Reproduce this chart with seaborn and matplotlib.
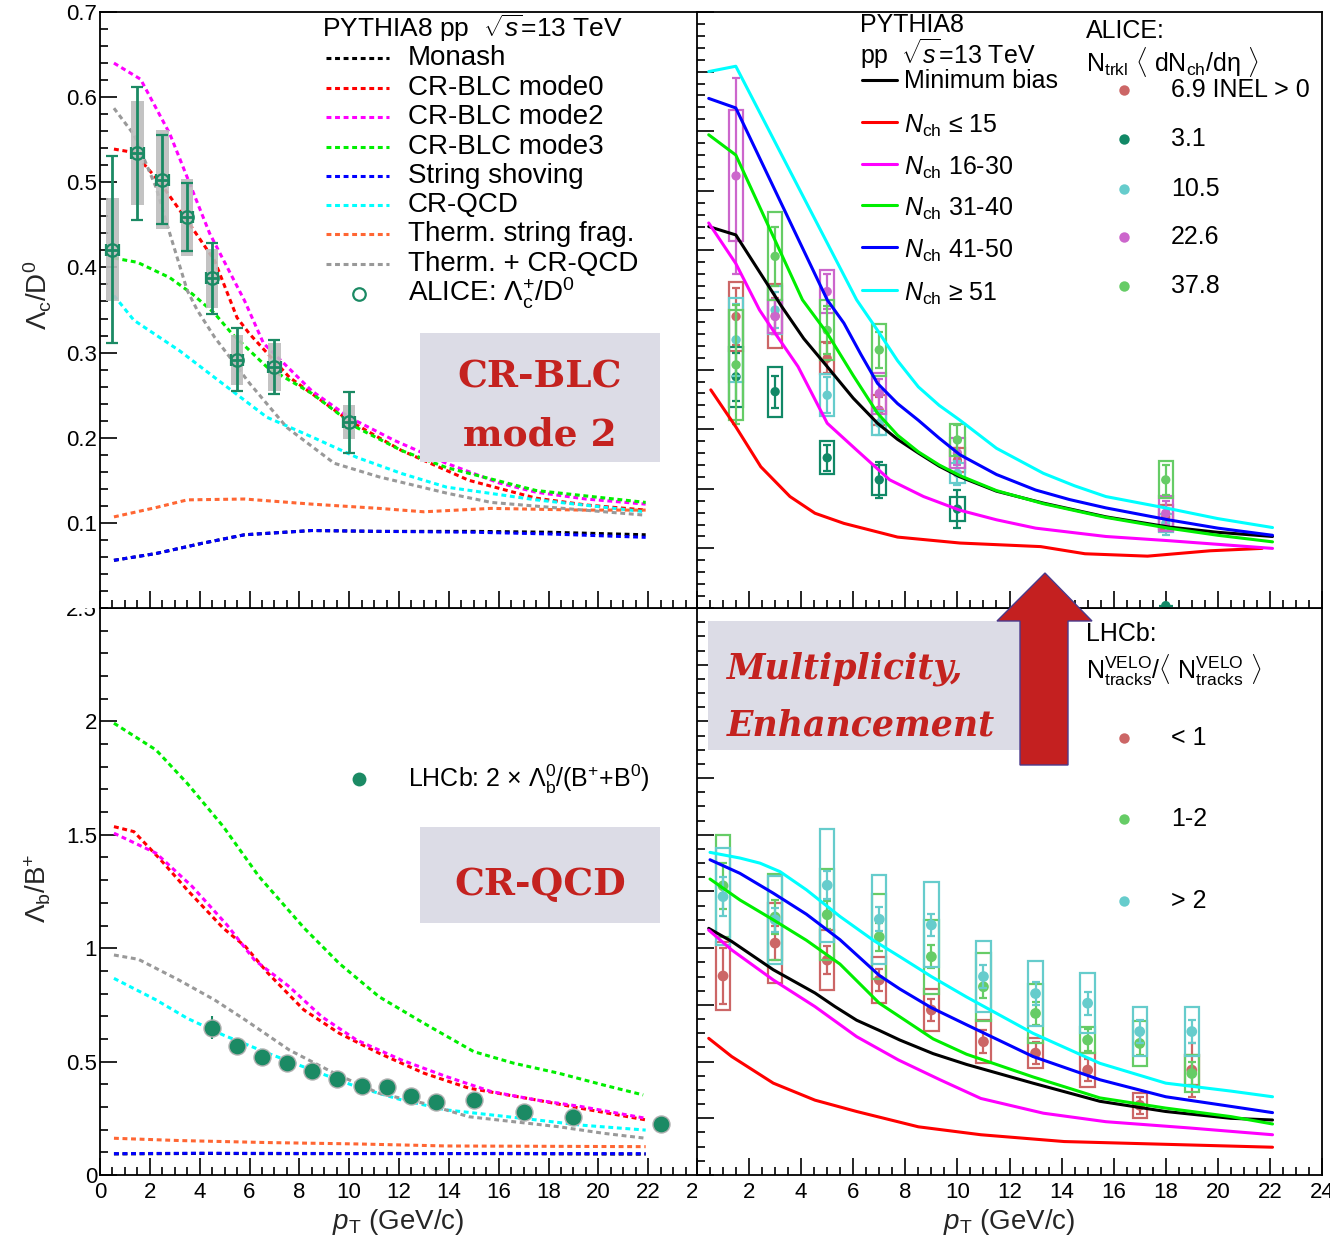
import numpy as np
import pandas as pd
import matplotlib
matplotlib.use("Agg")
import matplotlib.pyplot as plt
import seaborn as sns
from matplotlib.patches import Rectangle, Polygon
from matplotlib.ticker import MultipleLocator, FixedLocator, NullFormatter

# ======================= DATA =======================
# ---- Top-left: Lambda_c / D0, PYTHIA8 tunes ----
tl_monash_pt = [0.56, 2.25, 4.1, 5.8, 8.5, 11.2, 15, 18, 21.9]
tl_monash_v = [0.056, 0.064, 0.076, 0.086, 0.091, 0.090, 0.090, 0.089, 0.086]
tl_mode0_pt = [0.56, 1.36, 2.4, 3.5, 4.6, 5.5, 6.0, 7.6, 10, 12.1, 14.8, 17.5, 19.5, 21.9]
tl_mode0_v = [0.539, 0.535, 0.50, 0.455, 0.408, 0.341, 0.322, 0.271, 0.220, 0.185, 0.150, 0.129, 0.121, 0.115]
tl_mode2_pt = [0.56, 1.63, 2.8, 4.4, 5.8, 6.56, 8.5, 10, 11.8, 13.9, 16, 17.5, 19.5, 21.9]
tl_mode2_v = [0.640, 0.621, 0.557, 0.44, 0.361, 0.311, 0.255, 0.224, 0.197, 0.170, 0.147, 0.136, 0.128, 0.122]
tl_mode3_pt = [0.56, 1.5, 2.8, 3.7, 4.6, 5.3, 6.7, 8.5, 10.3, 12.1, 13.9, 17.5, 21.9]
tl_mode3_v = [0.411, 0.406, 0.388, 0.369, 0.346, 0.322, 0.283, 0.252, 0.212, 0.185, 0.165, 0.138, 0.124]
tl_shove_pt = [0.56, 2.25, 4.1, 5.8, 8.5, 11.2, 15, 18, 21.9]
tl_shove_v = [0.056, 0.064, 0.076, 0.086, 0.091, 0.090, 0.089, 0.087, 0.083]
tl_crqcd_pt = [0.56, 1.36, 3.2, 4.9, 6.7, 8.5, 10.3, 12.1, 13.9, 17.5, 21.9]
tl_crqcd_v = [0.367, 0.338, 0.302, 0.264, 0.224, 0.201, 0.177, 0.158, 0.142, 0.127, 0.113]
tl_therm_pt = [0.56, 2.25, 3.5, 5.8, 8.5, 11.2, 13, 15.7, 19.3, 21.9]
tl_therm_v = [0.107, 0.118, 0.127, 0.128, 0.122, 0.117, 0.113, 0.117, 0.115, 0.115]
tl_thcr_pt = [0.56, 1.36, 2.25, 2.8, 3.5, 3.9, 4.6, 6.0, 7.5, 9.4, 11.2, 13.9, 15.7, 21.9]
tl_thcr_v = [0.587, 0.556, 0.494, 0.44, 0.373, 0.35, 0.318, 0.264, 0.212, 0.170, 0.154, 0.135, 0.124, 0.109]
# ALICE Lambda_c+/D0
alice_pt = [0.5, 1.5, 2.5, 3.5, 4.5, 5.5, 7, 10]
alice_v = [0.421, 0.534, 0.503, 0.459, 0.387, 0.2915, 0.283, 0.218]
alice_stat = [0.11, 0.078, 0.052, 0.040, 0.042, 0.037, 0.032, 0.036]
alice_syst = [0.06, 0.061, 0.058, 0.045, 0.035, 0.029, 0.028, 0.020]

# ---- Top-right: Lambda_c / D0 in multiplicity classes ----
tr_mb_pt = [0.45, 1.49, 3.25, 4.1, 5.0, 6.0, 6.93, 7.7, 8.5, 9.3, 10.1, 11.5, 13.3, 15.7, 18.1, 20, 22.1]
tr_mb_v = [0.640, 0.626, 0.506, 0.452, 0.405, 0.352, 0.310, 0.283, 0.260, 0.238, 0.220, 0.196, 0.176, 0.153, 0.136, 0.127, 0.120]
tr_n15_pt = [0.53, 1.49, 2.45, 3.57, 4.53, 5.64, 7.7, 10.1, 13.2, 14.9, 17.3, 19.7, 21.7]
tr_n15_v = [0.366, 0.304, 0.237, 0.187, 0.159, 0.142, 0.119, 0.109, 0.103, 0.091, 0.087, 0.096, 0.100]
tr_n30_pt = [0.45, 1.49, 2.4, 2.92, 3.88, 5.0, 6.13, 7.4, 8.7, 10.1, 11.5, 13, 15.7, 18.1, 22.1]
tr_n30_v = [0.646, 0.578, 0.50, 0.466, 0.405, 0.310, 0.265, 0.215, 0.187, 0.164, 0.148, 0.134, 0.120, 0.113, 0.100]
tr_n40_pt = [0.45, 1.49, 4.05, 5.0, 6.0, 6.93, 7.7, 8.5, 9.3, 10.1, 11.5, 13.3, 15.7, 18.1, 20, 22.1]
tr_n40_v = [0.794, 0.760, 0.517, 0.461, 0.390, 0.327, 0.290, 0.262, 0.240, 0.222, 0.197, 0.175, 0.152, 0.134, 0.122, 0.111]
tr_n50_pt = [0.45, 1.49, 5.0, 5.64, 6.3, 6.93, 7.7, 8.5, 9.3, 10.1, 11.5, 13, 14.3, 15.7, 18.1, 20, 22.1]
tr_n50_v = [0.855, 0.839, 0.517, 0.478, 0.425, 0.377, 0.343, 0.315, 0.285, 0.257, 0.224, 0.198, 0.182, 0.168, 0.148, 0.134, 0.122]
tr_n51_pt = [0.45, 1.49, 6.13, 6.93, 7.7, 8.5, 9.3, 10.1, 11.5, 13.3, 14.5, 15.7, 18.1, 20, 22.1]
tr_n51_v = [0.900, 0.909, 0.517, 0.466, 0.415, 0.371, 0.340, 0.315, 0.268, 0.226, 0.205, 0.187, 0.167, 0.150, 0.135]
# ALICE multiplicity-class data
tr_data_pt = [1.5, 3, 5, 7, 10, 18]
tr_classes = ["6.9 INEL > 0", "3.1", "10.5", "22.6", "37.8"]
tr_v_69 = [0.489, 0.490, 0.419, 0.332, 0.248, 0.153]
tr_stat_69 = [0.048, 0.03, 0.025, 0.022, 0.02, 0.02]
tr_syst_69 = [0.058, 0.054, 0.027, 0.025, 0.02, 0.02]
tr_v_31 = [0.388, 0.363, 0.252, 0.215, 0.166, 0.004]
tr_stat_31 = [0.04, 0.027, 0.022, 0.03, 0.032, 0.0]
tr_syst_31 = [0.05, 0.042, 0.028, 0.025, 0.02, 0.0]
tr_v_105 = [0.45, 0.50, 0.357, 0.31, 0.226, 0.142]
tr_stat_105 = [0.06, 0.03, 0.03, 0.02, 0.02, 0.02]
tr_syst_105 = [0.07, 0.04, 0.035, 0.02, 0.017, 0.015]
tr_v_226 = [0.725, 0.489, 0.531, 0.36, 0.26, 0.159]
tr_stat_226 = [0.165, 0.03, 0.03, 0.025, 0.02, 0.02]
tr_syst_226 = [0.11, 0.027, 0.036, 0.034, 0.025, 0.029]
tr_v_378 = [0.408, 0.59, 0.466, 0.433, 0.282, 0.215]
tr_stat_378 = [0.10, 0.05, 0.04, 0.03, 0.025, 0.025]
tr_syst_378 = [0.092, 0.074, 0.05, 0.044, 0.027, 0.031]

# ---- Bottom-left: Lambda_b / B+ ----
bl_monash_pt = [0.56, 4, 8, 12, 16, 21.9]
bl_monash_v = [0.093, 0.095, 0.094, 0.095, 0.094, 0.092]
bl_mode0_pt = [0.56, 1.36, 2.44, 3.5, 4.95, 5.84, 6.74, 8.18, 9.6, 11.2, 13.0, 14.8, 17.5, 19.3, 21.9]
bl_mode0_v = [1.536, 1.514, 1.389, 1.257, 1.088, 1.007, 0.890, 0.728, 0.625, 0.537, 0.449, 0.383, 0.331, 0.294, 0.243]
bl_mode2_pt = [0.56, 2.25, 3.7, 5.1, 6.2, 7.6, 8.9, 10.3, 12.1, 13.9, 15.7, 17.5, 19.3, 21.9]
bl_mode2_v = [1.507, 1.419, 1.272, 1.102, 0.948, 0.830, 0.698, 0.595, 0.507, 0.434, 0.368, 0.331, 0.302, 0.250]
bl_mode3_pt = [0.56, 2.25, 3.5, 4.95, 6.38, 8.2, 9.6, 11.2, 13.0, 15.0, 16.6, 18.4, 20.2, 21.8]
bl_mode3_v = [1.992, 1.874, 1.727, 1.536, 1.316, 1.088, 0.933, 0.786, 0.669, 0.544, 0.493, 0.449, 0.397, 0.353]
bl_shove_pt = [0.56, 4, 8, 12, 16, 21.9]
bl_shove_v = [0.094, 0.096, 0.095, 0.094, 0.095, 0.094]
bl_crqcd_pt = [0.56, 2.25, 3.5, 4.95, 6.74, 8.5, 10.3, 12.1, 13.9, 15.7, 17.5, 19.3, 21.9]
bl_crqcd_v = [0.867, 0.772, 0.691, 0.617, 0.537, 0.463, 0.389, 0.331, 0.287, 0.265, 0.243, 0.220, 0.198]
bl_therm_pt = [0.56, 3.16, 6.74, 10.3, 13.9, 21.9]
bl_therm_v = [0.162, 0.152, 0.143, 0.137, 0.128, 0.125]
bl_thcr_pt = [0.56, 1.54, 3.16, 4.6, 5.84, 7.6, 9.4, 11.2, 13.0, 14.8, 16.6, 18.4, 20.2, 21.9]
bl_thcr_v = [0.970, 0.951, 0.860, 0.772, 0.683, 0.551, 0.449, 0.360, 0.316, 0.257, 0.235, 0.213, 0.184, 0.162]
# LHCb 2 x Lambda_b0/(B+ + B0)
lhcb_pt = [4.5, 5.5, 6.5, 7.5, 8.5, 9.5, 10.5, 11.5, 12.5, 13.5, 15, 17, 19, 22.5]
lhcb_v = [0.650, 0.567, 0.519, 0.493, 0.459, 0.422, 0.394, 0.387, 0.350, 0.321, 0.331, 0.277, 0.255, 0.224]
lhcb_stat = [0.05, 0.035, 0.03, 0.03, 0.03, 0.03, 0.025, 0.03, 0.03, 0.025, 0.025, 0.02, 0.02, 0.015]
lhcb_syst = [0.03, 0.028, 0.025, 0.025, 0.025, 0.022, 0.02, 0.02, 0.02, 0.02, 0.02, 0.018, 0.018, 0.015]

# ---- Bottom-right: Lambda_b / B in multiplicity classes ----
br_mb_pt = [0.45, 1.33, 2.93, 4.53, 5.3, 6.13, 7.0, 7.79, 9.07, 10.35, 12.9, 15.47, 18, 20.5, 22.1]
br_mb_v = [0.435, 0.412, 0.362, 0.321, 0.297, 0.273, 0.255, 0.238, 0.214, 0.195, 0.162, 0.130, 0.112, 0.100, 0.097]
br_n15_pt = [0.45, 1.33, 2.93, 4.53, 6.13, 8.5, 10.9, 14.1, 18.9, 22.1]
br_n15_v = [0.241, 0.209, 0.162, 0.132, 0.112, 0.085, 0.071, 0.059, 0.053, 0.049]
br_n30_pt = [0.45, 1.33, 2.93, 4.53, 6.13, 7.73, 9.33, 10.9, 13.3, 15.7, 18.9, 22.1]
br_n30_v = [0.432, 0.397, 0.344, 0.297, 0.244, 0.203, 0.168, 0.135, 0.109, 0.094, 0.083, 0.071]
br_n40_pt = [0.5, 1.65, 2.93, 4.2, 5.49, 7.0, 7.79, 9.07, 10.35, 12.9, 15.47, 18, 20.5, 22.1]
br_n40_v = [0.522, 0.485, 0.450, 0.414, 0.372, 0.303, 0.279, 0.240, 0.213, 0.173, 0.136, 0.118, 0.103, 0.090]
br_n50_pt = [0.5, 1.65, 2.93, 4.2, 5.49, 7.0, 7.79, 9.0, 10.35, 12.9, 15.47, 18, 20.5, 22.1]
br_n50_v = [0.556, 0.532, 0.497, 0.460, 0.415, 0.352, 0.328, 0.295, 0.265, 0.209, 0.168, 0.138, 0.121, 0.110]
br_n51_pt = [0.5, 1.65, 2.42, 3.19, 4.2, 5.49, 6.77, 7.79, 9.0, 10.35, 12.9, 15.47, 18, 20.5, 22.1]
br_n51_v = [0.569, 0.559, 0.550, 0.535, 0.503, 0.456, 0.414, 0.385, 0.350, 0.314, 0.250, 0.197, 0.162, 0.148, 0.138]
# LHCb multiplicity classes
br_data_pt = [1, 3, 5, 7, 9, 11, 13, 15, 17, 19]
br_classes = ["< 1", "1-2", "> 2"]
br_v_lt1 = [0.351, 0.409, 0.379, 0.344, 0.291, 0.235, 0.215, 0.185, 0.123, 0.185]
br_stat_lt1 = [0.05, 0.03, 0.025, 0.02, 0.02, 0.02, 0.02, 0.02, 0.015, 0.047]
br_syst_lt1 = [0.06, 0.07, 0.053, 0.041, 0.037, 0.038, 0.027, 0.03, 0.022, 0.027]
br_v_12 = [0.51, 0.455, 0.459, 0.420, 0.385, 0.332, 0.285, 0.238, 0.232, 0.179]
br_stat_12 = [0.04, 0.03, 0.025, 0.025, 0.02, 0.02, 0.02, 0.02, 0.02, 0.02]
br_syst_12 = [0.09, 0.075, 0.08, 0.075, 0.065, 0.06, 0.052, 0.023, 0.04, 0.033]
br_v_gt2 = [0.491, 0.450, 0.511, 0.451, 0.441, 0.350, 0.320, 0.303, 0.253, 0.253]
br_stat_gt2 = [0.035, 0.021, 0.025, 0.021, 0.02, 0.02, 0.02, 0.02, 0.02, 0.02]
br_syst_gt2 = [0.085, 0.078, 0.10, 0.078, 0.075, 0.063, 0.057, 0.053, 0.043, 0.044]

# tick labels
x_ticks = list(range(0, 25, 2))
bl_xlabels = [str(t) for t in x_ticks]
br_xlabels = [""] + [str(t) for t in x_ticks[1:]]
tl_yticks = [0.1, 0.2, 0.3, 0.4, 0.5, 0.6, 0.7]
bl_yticks = [0, 0.5, 1, 1.5, 2, 2.5]

# ======================= STYLE =======================
sns.set_theme(style="white")
plt.rcParams['font.family'] = ['Liberation Sans', 'DejaVu Sans']
plt.rcParams['mathtext.fontset'] = 'custom'
plt.rcParams['mathtext.rm'] = 'Liberation Sans'
plt.rcParams['mathtext.it'] = 'Liberation Sans:italic'
plt.rcParams['mathtext.bf'] = 'Liberation Sans:bold'

C_BLACK, C_RED, C_MAG, C_GRN = '#000000', '#ff0000', '#ff00ff', '#00ee00'
C_BLUE, C_CYAN, C_ORNG, C_GRAY = '#0000ff', '#00ffff', '#ff6633', '#999999'
C_ALICE = '#1b8a64'
CL_SALMON, CL_DKGRN, CL_CYAN, CL_MAG, CL_GRN = '#cc6666', '#118866', '#66cccc', '#cc66cc', '#66cc66'
DASH = (0, (1.6, 1.2))
LW = 2.2
RED_TXT = '#c4221f'
BOX_BG = '#dcdce6'

W, H = 1343, 1245
fig = plt.figure(figsize=(W / 100, H / 100), dpi=100)


def add_ax(x0, y0, x1, y1, z):
    return fig.add_axes([x0 / W, 1 - y1 / H, (x1 - x0) / W, (y1 - y0) / H], zorder=z)


ax_bl = add_ax(100, 608, 698, 1175, 0)
ax_br = add_ax(697, 608, 1322, 1175, 1)
ax_tl = add_ax(100, 12, 698, 608, 1)
ax_tr = add_ax(697, 12, 1322, 608, 1)

# white covers emulating the ROOT pads
fig.add_artist(Rectangle((0, 1 - 608 / H), 100 / W, 608 / H, transform=fig.transFigure,
                         fc='white', ec='none', zorder=0.5))
fig.add_artist(Rectangle((697 / W, 0), (W - 697) / W, (H - 1175) / H, transform=fig.transFigure,
                         fc='white', ec='none', zorder=0.5))
fig.add_artist(Rectangle((1330 / W, 0), 13 / W, 1, transform=fig.transFigure,
                         fc='white', ec='none', zorder=3))


def curve(ax, pt, v, color, dashed=True, z=2):
    sns.lineplot(x=pt, y=v, ax=ax, color=color, linestyle=DASH if dashed else '-',
                 linewidth=LW, legend=False, errorbar=None, zorder=z)


def style(ax, ymaj, ymin, ylim):
    ax.set_xlim(0, 24)
    ax.set_ylim(*ylim)
    ax.xaxis.set_major_locator(FixedLocator(x_ticks))
    ax.xaxis.set_minor_locator(MultipleLocator(0.5))
    ax.yaxis.set_major_locator(MultipleLocator(ymaj))
    ax.yaxis.set_minor_locator(MultipleLocator(ymin))
    ax.tick_params(which='both', direction='in', bottom=True, left=True, top=False, right=False,
                   width=1.2, color='black', labelsize=16, labelcolor='black')
    ax.tick_params(which='major', length=12)
    ax.tick_params(which='minor', length=6)
    ax.tick_params(axis='x', pad=5)
    ax.tick_params(axis='y', pad=2)
    for s in ax.spines.values():
        s.set_visible(True)
        s.set_color('black')
        s.set_linewidth(1.3)
    ax.set_facecolor('white')
    ax.set_xlabel('')
    ax.set_ylabel('')


# ---------------- Top-left ----------------
ax = ax_tl
curve(ax, tl_monash_pt, tl_monash_v, C_BLACK)
curve(ax, tl_mode0_pt, tl_mode0_v, C_RED)
curve(ax, tl_mode2_pt, tl_mode2_v, C_MAG)
curve(ax, tl_mode3_pt, tl_mode3_v, C_GRN)
curve(ax, tl_shove_pt, tl_shove_v, C_BLUE)
curve(ax, tl_crqcd_pt, tl_crqcd_v, C_CYAN)
curve(ax, tl_therm_pt, tl_therm_v, C_ORNG)
curve(ax, tl_thcr_pt, tl_thcr_v, C_GRAY)
a_v = np.array(alice_v)
a_sy = np.array(alice_syst)
ax.bar(alice_pt, 2 * a_sy, bottom=a_v - a_sy, width=0.5, color='#bdbdbd', alpha=0.9, linewidth=0, zorder=3)
ax.errorbar(alice_pt, alice_v, yerr=alice_stat, xerr=0.25, fmt='o', mfc='none', mec=C_ALICE,
            ms=9, mew=1.6, ecolor=C_ALICE, elinewidth=2, capsize=4, capthick=2, zorder=4)
style(ax, 0.1, 0.02, (0, 0.7))
ax.set_yticks(tl_yticks)
ax.set_yticklabels([f"{t:g}" for t in tl_yticks])
ax.xaxis.set_major_formatter(NullFormatter())
ax.set_ylabel(r"$\Lambda_{\rm c}/{\rm D}^{0}$", fontsize=20)
ax.yaxis.set_label_coords(-0.104, 0.525)
ax.yaxis.label.set_va('center')

# ---------------- Top-right ----------------
ax = ax_tr
tr_sets = [(tr_v_69, tr_stat_69, tr_syst_69, CL_SALMON), (tr_v_31, tr_stat_31, tr_syst_31, CL_DKGRN),
           (tr_v_105, tr_stat_105, tr_syst_105, CL_CYAN), (tr_v_226, tr_stat_226, tr_syst_226, CL_MAG),
           (tr_v_378, tr_stat_378, tr_syst_378, CL_GRN)]
for v, st, sy, c in tr_sets:
    v = np.array(v); sy = np.array(sy)
    ax.bar(tr_data_pt, 2 * sy, bottom=v - sy, width=0.55, fill=False, edgecolor=c, linewidth=1.6, zorder=2)
    ax.errorbar(tr_data_pt, v, yerr=st, fmt='none', ecolor=c, elinewidth=1.6, capsize=3, capthick=1.6, zorder=2)
    sns.scatterplot(x=tr_data_pt, y=v, ax=ax, color=c, s=45, edgecolor='none', legend=False, zorder=2)
curve(ax, tr_mb_pt, tr_mb_v, C_BLACK, dashed=False, z=3)
curve(ax, tr_n15_pt, tr_n15_v, C_RED, dashed=False, z=3)
curve(ax, tr_n30_pt, tr_n30_v, C_MAG, dashed=False, z=3)
curve(ax, tr_n40_pt, tr_n40_v, C_GRN, dashed=False, z=3)
curve(ax, tr_n50_pt, tr_n50_v, C_BLUE, dashed=False, z=3)
curve(ax, tr_n51_pt, tr_n51_v, C_CYAN, dashed=False, z=3)
style(ax, 0.1, 0.02, (0, 1))
ax.xaxis.set_major_formatter(NullFormatter())
ax.yaxis.set_major_formatter(NullFormatter())

# ---------------- Bottom-left ----------------
ax = ax_bl
curve(ax, bl_monash_pt, bl_monash_v, C_BLACK)
curve(ax, bl_mode0_pt, bl_mode0_v, C_RED)
curve(ax, bl_mode2_pt, bl_mode2_v, C_MAG)
curve(ax, bl_mode3_pt, bl_mode3_v, C_GRN)
curve(ax, bl_shove_pt, bl_shove_v, C_BLUE)
curve(ax, bl_crqcd_pt, bl_crqcd_v, C_CYAN)
curve(ax, bl_therm_pt, bl_therm_v, C_ORNG)
curve(ax, bl_thcr_pt, bl_thcr_v, C_GRAY)
l_v = np.array(lhcb_v); l_sy = np.array(lhcb_syst)
ax.bar(lhcb_pt, 2 * l_sy, bottom=l_v - l_sy, width=0.45, color='#c8c8c8', alpha=0.8, linewidth=0, zorder=3)
ax.errorbar(lhcb_pt, lhcb_v, yerr=lhcb_stat, fmt='none', ecolor=C_ALICE, elinewidth=1.5, zorder=4)
sns.scatterplot(x=lhcb_pt, y=lhcb_v, ax=ax, color=C_ALICE, s=150, edgecolor='#b0b0b0', linewidth=1.0,
                legend=False, zorder=5)
style(ax, 0.5, 0.1, (0, 2.5))
ax.set_yticks(bl_yticks)
ax.set_yticklabels([f"{t:g}" for t in bl_yticks])
ax.set_xticks(x_ticks)
ax.set_xticklabels(bl_xlabels)
ax.set_ylabel(r"$\Lambda_{\rm b}/{\rm B}^{+}$", fontsize=20)
ax.yaxis.set_label_coords(-0.104, 0.506)
ax.yaxis.label.set_va('center')
ax.set_xlabel(r"$p_{\rm T}$ (GeV/c)", fontsize=20)
ax.xaxis.set_label_coords(0.498, -0.083)
ax.xaxis.label.set_va('center')

# ---------------- Bottom-right ----------------
ax = ax_br
br_sets = [(br_v_lt1, br_stat_lt1, br_syst_lt1, CL_SALMON), (br_v_12, br_stat_12, br_syst_12, CL_GRN),
           (br_v_gt2, br_stat_gt2, br_syst_gt2, CL_CYAN)]
for v, st, sy, c in br_sets:
    v = np.array(v); sy = np.array(sy)
    ax.bar(br_data_pt, 2 * sy, bottom=v - sy, width=0.55, fill=False, edgecolor=c, linewidth=1.6, zorder=2)
    ax.errorbar(br_data_pt, v, yerr=st, fmt='none', ecolor=c, elinewidth=1.6, capsize=3, capthick=1.6, zorder=2)
    sns.scatterplot(x=br_data_pt, y=v, ax=ax, color=c, s=60, edgecolor='none', legend=False, zorder=2)
curve(ax, br_mb_pt, br_mb_v, C_BLACK, dashed=False, z=3)
curve(ax, br_n15_pt, br_n15_v, C_RED, dashed=False, z=3)
curve(ax, br_n30_pt, br_n30_v, C_MAG, dashed=False, z=3)
curve(ax, br_n40_pt, br_n40_v, C_GRN, dashed=False, z=3)
curve(ax, br_n50_pt, br_n50_v, C_BLUE, dashed=False, z=3)
curve(ax, br_n51_pt, br_n51_v, C_CYAN, dashed=False, z=3)
style(ax, 0.1, 0.025, (0, 1))
ax.yaxis.set_major_formatter(NullFormatter())
ax.set_xticks(x_ticks)
ax.set_xticklabels(br_xlabels)
ax.set_xlabel(r"$p_{\rm T}$ (GeV/c)", fontsize=20)
ax.xaxis.set_label_coords(0.50, -0.083)
ax.xaxis.label.set_va('center')

# ======================= OVERLAY (legends, annotations) =======================
ov = fig.add_axes([0, 0, 1, 1], zorder=10)
ov.set_xlim(0, W)
ov.set_ylim(H, 0)
ov.axis('off')
ov.patch.set_alpha(0)


def t(x, y, s, size=18, **kw):
    ov.text(x, y, s, fontsize=size, ha=kw.pop('ha', 'left'), va=kw.pop('va', 'center'), color=kw.pop('color', 'black'), **kw)


# Top-left legend
t(322, 28, r"PYTHIA8 pp  $\sqrt{s}$=13 TeV", 19)
tl_leg = [("Monash", C_BLACK), ("CR-BLC mode0", C_RED), ("CR-BLC mode2", C_MAG), ("CR-BLC mode3", C_GRN),
          ("String shoving", C_BLUE), ("CR-QCD", C_CYAN), ("Therm. string frag.", C_ORNG),
          ("Therm. + CR-QCD", C_GRAY)]
rows = [58, 88, 117, 147, 176, 205, 234, 264]
for (lab, c), y in zip(tl_leg, rows):
    ov.plot([326, 389], [y, y], color=c, lw=LW, ls=DASH)
    t(408, y, lab, 20)
ov.plot([359], [294], 'o', mfc='none', mec=C_ALICE, ms=9, mew=1.6)
t(408, 293, r"ALICE: $\Lambda_{\rm c}^{+}$/D$^{0}$", 20)

# Top-right legends
t(860, 25, "PYTHIA8", 18)
t(860, 54, r"pp  $\sqrt{s}$=13 TeV", 18)
tr_leg = [("Minimum bias", C_BLACK), (r"$N_{\rm ch}$ ≤ 15", C_RED), (r"$N_{\rm ch}$ 16-30", C_MAG),
          (r"$N_{\rm ch}$ 31-40", C_GRN), (r"$N_{\rm ch}$ 41-50", C_BLUE), (r"$N_{\rm ch}$ ≥ 51", C_CYAN)]
rows = [80, 122, 164, 205, 247, 290]
for i, ((lab, c), y) in enumerate(zip(tr_leg, rows)):
    ov.plot([862, 897], [y, y], color=c, lw=LW)
    t(904, y + (1 if i == 0 else 4), lab, 18)
t(1086, 31, "ALICE:", 18)
t(1086, 62, r"N$_{\rm trkl}$ $\langle$ dN$_{\rm ch}$/dη $\rangle$", 18)
rows = [90, 139, 189, 237, 286]
for lab, c, y in zip(tr_classes, [CL_SALMON, CL_DKGRN, CL_CYAN, CL_MAG, CL_GRN], rows):
    ov.plot([1124], [y], 'o', color=c, ms=7.5, mec='none')
    t(1171, y, lab, 18)

# Bottom-left legend
ov.plot([359], [779], 'o', color=C_ALICE, ms=10, mec='none')
t(408, 779, r"LHCb: 2 × $\Lambda_{\rm b}^{0}$/(B$^{+}$+B$^{0}$)", 18)

# Bottom-right legend
t(1086, 634, "LHCb:", 18)
t(1086, 670, r"N$^{\rm VELO}_{\rm tracks}$/$\langle$ N$^{\rm VELO}_{\rm tracks}$ $\rangle$", 18)
rows = [738, 819, 901]
for lab, c, y in zip(br_classes, [CL_SALMON, CL_GRN, CL_CYAN], rows):
    ov.plot([1124], [y], 'o', color=c, ms=7.5, mec='none')
    t(1171, y, lab, 18)

# Annotation boxes
ov.add_patch(Rectangle((420, 333), 240, 129, fc=BOX_BG, ec='none', zorder=1))
t(540, 387, "CR-BLC", 27, ha='center', va='baseline', color=RED_TXT, family='DejaVu Serif',
  fontweight='bold', zorder=2)
t(540, 446, "mode 2", 27, ha='center', va='baseline', color=RED_TXT, family='DejaVu Serif',
  fontweight='bold', zorder=2)
ov.add_patch(Rectangle((420, 827), 240, 96, fc=BOX_BG, ec='none', zorder=1))
t(540, 895, "CR-QCD", 27, ha='center', va='baseline', color=RED_TXT, family='DejaVu Serif',
  fontweight='bold', zorder=2)
ov.add_patch(Rectangle((708, 621), 312, 129, fc=BOX_BG, ec='none', zorder=1))
t(727, 678, "Multiplicity,", 25, va='baseline', color=RED_TXT, family='DejaVu Serif',
  fontweight='bold', fontstyle='italic', zorder=2)
t(727, 735, "Enhancement", 25, va='baseline', color=RED_TXT, family='DejaVu Serif',
  fontweight='bold', fontstyle='italic', zorder=2)

# Big red arrow
ov.add_patch(Polygon([(1020, 765), (1068, 765), (1068, 621), (1092, 621), (1045, 573), (997, 621), (1020, 621)],
                     closed=True, fc='#c42020', ec='#4b3a8c', lw=1.0, zorder=3))

fig.savefig("out.png", dpi=100)
